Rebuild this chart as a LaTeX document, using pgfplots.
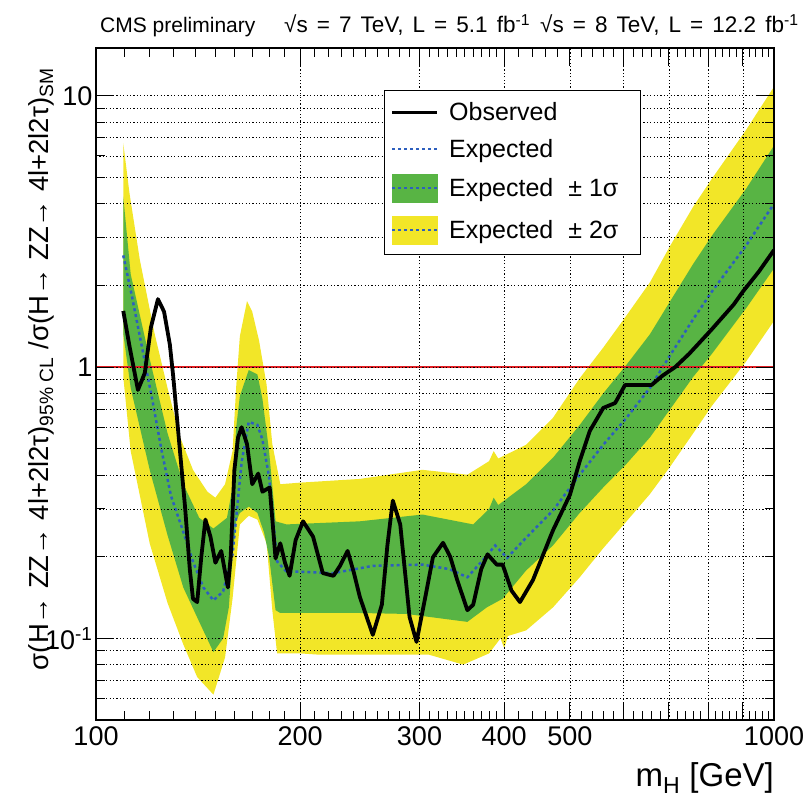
\documentclass[border=0pt]{standalone}
\usepackage{fontspec}
\setmainfont{Liberation Sans}
\newfontfamily\widefont[WordSpace=1.45]{Liberation Sans}
\usepackage{pgfplots}
\pgfplotsset{compat=1.18}

\definecolor{bandyellow}{RGB}{242,230,40}
\definecolor{bandgreen}{RGB}{88,180,68}
\definecolor{expblue}{RGB}{45,95,190}
\definecolor{limred}{RGB}{225,30,35}

\begin{document}
\begin{tikzpicture}
\path[use as bounding box] (0,0) rectangle (809bp,800bp);
\begin{axis}[
  at={(96bp,80bp)}, anchor=south west,
  scale only axis, width=678bp, height=672bp,
  xmode=log, ymode=log,
  xmin=100, xmax=1000, ymin=0.05, ymax=15,
  axis on top,
  xtick={100,200,300,400,500,1000},
  xticklabels={100,200,300,400,500,1000},
  extra x ticks={600,700,800,900}, extra x tick labels={},
  extra x tick style={grid=major},
  minor xtick={110,120,...,390,420,440,...,980},
  ytick={0.1,1,10},
  yticklabels={10\textsuperscript{-1},1,10},
  minor ytick={0.06,0.07,0.08,0.09,0.2,0.3,0.4,0.5,0.6,0.7,0.8,0.9,2,3,4,5,6,7,8,9},
  xmajorgrids, ymajorgrids, yminorgrids,
  major grid style={black, line width=0.7bp, dash pattern=on 1.2bp off 2.2bp},
  minor grid style={black, line width=0.7bp, dash pattern=on 1.2bp off 2.2bp},
  axis line style={line width=1.2bp},
  tick style={black, line width=1bp},
  major tick length=18bp, minor tick length=9bp,
  ticklabel style={font=\fontsize{27bp}{30bp}\selectfont},
  xticklabel style={yshift=-3bp},
  xlabel={m\textsubscript{H} [GeV]},
  xlabel style={font=\fontsize{33bp}{36bp}\selectfont, at={(axis description cs:1,0)}, anchor=north east, yshift=-42bp, inner sep=0pt},
  ylabel={σ(H→ ZZ→ 4l+2l2τ)\textsubscript{95\% CL} /σ(H→ ZZ→ 4l+2l2τ)\textsubscript{SM}},
  ylabel style={font=\fontsize{27.5bp}{30bp}\selectfont, at={(axis description cs:-0.081,0.522)}, anchor=center},
  legend style={at={(axis description cs:0.425,0.9375)}, anchor=north west, draw=black, line width=1bp, fill=white,
    font=\fontsize{25bp}{28bp}\selectfont, inner xsep=6bp, inner ysep=10bp, row sep=13bp, column sep=8bp, nodes={inner sep=2bp}},
  legend cell align=left,
]
% +-2 sigma band
\addplot[fill=bandyellow, draw=none, forget plot] coordinates {
(109.7,6.7)(112,4.4)(116,2.5)(122,1.33)(127.5,0.837)(133,0.553)(139,0.418)(146,0.347)(150,0.33)(155,0.37)(159,0.49)(161,0.85)(163,1.3)(167,1.75)(170,1.6)(174,1.25)(178.5,0.86)(182,0.52)(187,0.37)(200,0.375)(245,0.387)(303,0.418)(353,0.401)(380,0.45)(386,0.49)(392,0.46)(431,0.517)(472,0.65)(517,0.91)(560,1.18)(606,1.55)(656,2.05)(703,2.8)(760,3.9)(810,4.95)(910,7.5)(1000,10.8)
(1000,1.48)(910,1.05)(810,0.72)(760,0.57)(703,0.43)(656,0.34)(606,0.27)(560,0.215)(517,0.168)(472,0.13)(431,0.107)(405,0.102)(400,0.092)(395,0.1)(380,0.088)(348,0.08)(310,0.087)(262,0.087)(214,0.087)(200,0.088)(185,0.088)(182,0.127)(178.5,0.224)(173,0.274)(168,0.283)(163,0.263)(159,0.14)(155,0.085)(149,0.062)(141,0.072)(134.5,0.095)(127.5,0.135)(120,0.224)(112.5,0.49)(109.7,0.92)
} -- cycle;
% +-1 sigma band
\addplot[fill=bandgreen, draw=none, forget plot] coordinates {
(109.7,4.25)(112.5,2.2)(120,1.07)(127.5,0.57)(134.5,0.37)(142,0.278)(149,0.254)(156,0.278)(159,0.36)(161,0.6)(163,0.782)(168,0.975)(173,0.94)(176,0.763)(180,0.49)(184,0.27)(191,0.263)(245,0.27)(303,0.286)(360,0.263)(380,0.3)(386,0.33)(392,0.31)(431,0.37)(472,0.463)(517,0.612)(560,0.80)(606,1.02)(656,1.32)(703,1.75)(760,2.4)(810,3.05)(910,4.55)(1000,6.55)
(1000,2.31)(910,1.65)(810,1.12)(760,0.92)(703,0.70)(656,0.55)(606,0.44)(560,0.36)(517,0.29)(472,0.22)(431,0.178)(398,0.14)(377,0.13)(353,0.115)(287,0.123)(245,0.124)(187,0.124)(184,0.127)(180,0.2)(177,0.245)(173,0.29)(168,0.306)(163,0.29)(161,0.27)(159,0.2)(157,0.13)(154,0.1)(149,0.089)(142,0.115)(134.5,0.154)(127.5,0.24)(120,0.418)(112.5,0.837)(109.7,1.33)
} -- cycle;
% expected
\addplot[expblue, line width=2.5bp, dash pattern=on 3bp off 3bp, forget plot] coordinates {
(109.7,2.58)(113,1.82)(117,1.17)(121,0.763)(125,0.49)(129,0.335)(134,0.254)(139,0.192)(144,0.154)(149,0.138)(154,0.149)(159,0.204)(164,0.447)(168,0.628)(173,0.612)(176,0.54)(180,0.394)(185,0.192)(191,0.176)(200,0.176)(224,0.174)(256,0.185)(303,0.187)(332,0.18)(353,0.168)(372,0.194)(388,0.22)(404,0.198)(431,0.235)(472,0.296)(517,0.401)(560,0.517)(606,0.65)(656,0.837)(703,1.107)(760,1.5)(810,1.9)(910,2.81)(1000,4.0)
};
% SM line
\addplot[limred, line width=2bp, forget plot] coordinates {(100,1)(1000,1)};
% observed
\addplot[black, line width=3.8bp, line join=round, forget plot] coordinates {
(109.7,1.61)(112,1.2)(115.3,0.823)(118,0.95)(120.5,1.4)(123.4,1.78)(126,1.6)(128.5,1.21)(130,0.92)(133,0.49)(135.3,0.306)(137.5,0.18)(139,0.14)(141,0.136)(143,0.2)(145,0.274)(147.5,0.237)(150,0.19)(153,0.21)(156.5,0.154)(158,0.2)(160,0.418)(162,0.55)(164,0.60)(167,0.52)(170,0.37)(173.5,0.405)(176,0.347)(180.4,0.36)(184,0.197)(187,0.224)(190,0.19)(193,0.17)(197,0.23)(202,0.27)(209,0.237)(216,0.174)(224,0.17)(229,0.185)(235,0.21)(240,0.175)(245,0.142)(256,0.103)(264,0.133)(269,0.22)(274,0.322)(281,0.263)(286,0.17)(290,0.12)(297,0.097)(306,0.142)(314,0.199)(325,0.225)(333,0.2)(341,0.164)(353,0.127)(360,0.133)(370,0.18)(378,0.204)(390,0.187)(398,0.187)(410,0.15)(422,0.136)(441,0.164)(472,0.25)(500,0.338)(517,0.45)(535,0.582)(560,0.707)(583,0.737)(603,0.859)(660,0.859)(685,0.93)(715,1.0)(750,1.12)(810,1.38)(872,1.7)(900,1.9)(950,2.25)(1000,2.7)
};
\addlegendimage{legend image code/.code={\draw[black, line width=3.5bp] (0bp,0bp) -- (45bp,0bp);}}
\addlegendentry{Observed}
\addlegendimage{legend image code/.code={\draw[expblue, line width=2.5bp, dash pattern=on 3bp off 3bp] (0bp,0bp) -- (45bp,0bp);}}
\addlegendentry{Expected}
\addlegendimage{legend image code/.code={\fill[bandgreen] (0bp,-14bp) rectangle (45bp,14bp); \draw[expblue, line width=2.5bp, dash pattern=on 3bp off 3bp] (0bp,0bp) -- (45bp,0bp);}}
\addlegendentry{Expected\hspace{0.6em}± 1σ}
\addlegendimage{legend image code/.code={\fill[bandyellow] (0bp,-14bp) rectangle (45bp,14bp); \draw[expblue, line width=2.5bp, dash pattern=on 3bp off 3bp] (0bp,0bp) -- (45bp,0bp);}}
\addlegendentry{Expected\hspace{0.6em}± 2σ\rule{14bp}{0pt}}
\end{axis}
\node[anchor=base west, inner sep=0pt, font=\fontsize{21bp}{24bp}\selectfont] at (100bp,767bp) {CMS preliminary};
\node[anchor=base west, inner sep=0pt, font=\widefont\fontsize{22.5bp}{24bp}\selectfont] at (284bp,767bp) {√s = 7 TeV, L = 5.1 fb\textsuperscript{-1}};
\node[anchor=base west, inner sep=0pt, font=\widefont\fontsize{22.5bp}{24bp}\selectfont] at (540bp,767bp) {√s = 8 TeV, L = 12.2 fb\textsuperscript{-1}};
\end{tikzpicture}
\end{document}
